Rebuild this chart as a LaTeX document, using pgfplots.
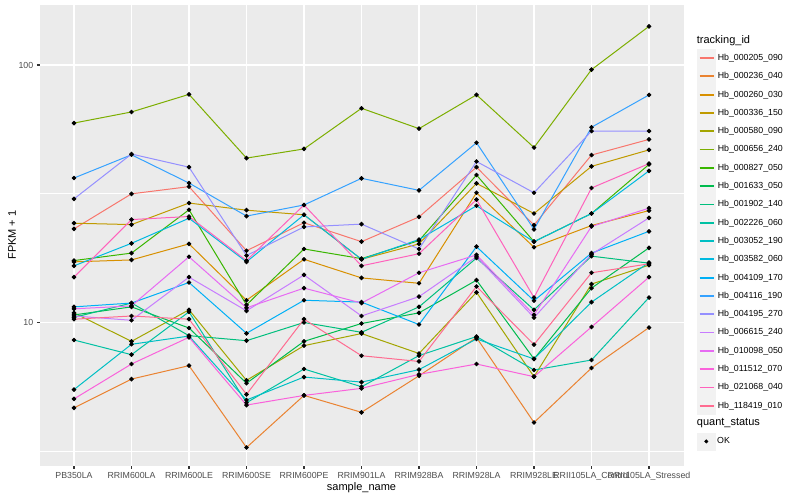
\documentclass[border=0pt]{standalone}
\usepackage{fontspec}
\setmainfont{Liberation Sans}
\usepackage{pgfplots}
\usepackage{pgfplotstable}
\pgfplotsset{compat=1.18}

\definecolor{c1}{HTML}{F8766D}
\definecolor{c2}{HTML}{EA8331}
\definecolor{c3}{HTML}{D89000}
\definecolor{c4}{HTML}{C09B00}
\definecolor{c5}{HTML}{A3A500}
\definecolor{c6}{HTML}{7CAE00}
\definecolor{c7}{HTML}{39B600}
\definecolor{c8}{HTML}{00BB4E}
\definecolor{c9}{HTML}{00BF7D}
\definecolor{c10}{HTML}{00C1A3}
\definecolor{c11}{HTML}{00BFC4}
\definecolor{c12}{HTML}{00BAE0}
\definecolor{c13}{HTML}{00B0F6}
\definecolor{c14}{HTML}{35A2FF}
\definecolor{c15}{HTML}{9590FF}
\definecolor{c16}{HTML}{C77CFF}
\definecolor{c17}{HTML}{E76BF3}
\definecolor{c18}{HTML}{FA62DB}
\definecolor{c19}{HTML}{FF62BC}
\definecolor{c20}{HTML}{FF6C91}
\definecolor{panelbg}{HTML}{EBEBEB}
\definecolor{keybg}{HTML}{F2F2F2}
\definecolor{grey30}{HTML}{4D4D4D}
\definecolor{grey20}{HTML}{333333}

% FPKM+1 per sample (rows) and tracking id (columns s1..s20, legend order)
\pgfplotstableread{
x  s1   s2   s3   s4   s5   s6    s7   s8   s9    s10  s11  s12  s13   s14  s15  s16   s17  s18  s19  s20
0  23.1 4.66 17.2 24.3 10.9 59.5  17.4 10.7 10.47 8.55 5.49 16.6 11.5  36.4 30.2 10.6  11.3 5.05 15.0 10.3
1  31.6 6.03 17.5 24.0 8.45 65.7  18.6 11.5 11.9  7.50 8.23 20.3 11.9  44.8 45.1 10.2  11.6 6.90 25.1 10.6
2  33.7 6.80 20.2 29.1 11.2 76.9  27.4 9.52 8.89  11.0 8.86 25.4 14.3  34.8 40.1 15.0  18.0 8.76 25.8 10.3
3  19.0 3.27 12.2 27.3 5.96 43.5  11.7 5.81 8.50  4.88 5.00 17.2 9.08  25.9 18.2 11.1  11.4 4.78 17.4 5.26
4  24.4 5.21 17.6 26.2 8.13 47.2  19.3 8.45 10.0  6.60 6.14 26.2 12.2  28.6 23.5 15.3  13.6 5.21 28.6 10.3
5  20.6 4.48 14.9 17.6 9.06 67.9  17.7 9.91 9.16  5.63 5.87 17.6 12.0  36.3 24.1 10.6  11.9 5.55 16.6 7.43
6  25.7 6.21 14.2 20.2 7.58 56.6  20.8 10.9 11.5  7.44 6.56 21.0 9.82  32.6 19.3 12.6  15.6 6.29 18.5 7.06
7  40.1 8.74 31.9 34.7 13.1 76.6  37.4 14.6 17.8  8.82 8.63 28.4 19.7  49.9 42.2 18.0  18.3 6.90 30.0 13.8
8  23.9 4.09 19.6 26.5 6.16 47.8  20.6 7.22 11.2  6.54 7.22 20.6 12.15 23.0 31.9 10.45 10.7 6.16 12.5 8.21
9  44.7 6.66 23.8 40.4 14.1 95.9  26.5 13.6 18.1  7.15 12.0 26.5 18.6  57.3 55.4 18.4  23.6 9.61 33.3 15.6
10 51.4 9.56 27.2 46.8 16.7 141.3 41.1 19.5 17.0  12.5 17.1 38.8 22.6  76.5 55.4 25.5  27.8 15.0 41.4 16.9
}\data

\begin{document}
\begin{tikzpicture}
\path[use as bounding box] (0,0) rectangle (800pt,500pt);

\begin{axis}[
    at={(39.5pt,34pt)}, anchor=south west,
    scale only axis, width=644pt, height=461pt,
    ymode=log,
    xmin=-0.6, xmax=10.6, ymin=2.772, ymax=171,
    axis background/.style={fill=panelbg},
    axis line style={draw=none},
    xtick={0,...,10},
    xticklabels={PB350LA,RRIM600LA,RRIM600LE,RRIM600SE,RRIM600PE,RRIM901LA,RRIM928BA,RRIM928LA,RRIM928LE,RRII105LA\_Control,RRII105LA\_Stressed},
    ytick={10,100}, yticklabels={10,100},
    minor ytick={3.1623,31.623},
    grid=both,
    major grid style={white, line width=1.07pt},
    minor grid style={white, line width=0.53pt},
    tick pos=left, tick align=outside,
    major tick length=2.75pt, minor tick length=0pt,
    tick style={grey20, line width=1.07pt},
    ticklabel style={font=\fontsize{8.8}{10}\selectfont, text=grey30},
    xlabel={sample\_name}, ylabel={FPKM + 1},
    label style={font=\fontsize{11}{13}\selectfont},
    xlabel style={at={(axis description cs:0.5,-0.0477)}, anchor=center},
    ylabel style={at={(axis description cs:-0.0427,0.501)}, anchor=center, rotate=0},
    cycle list={{c1},{c2},{c3},{c4},{c5},{c6},{c7},{c8},{c9},{c10},{c11},{c12},{c13},{c14},{c15},{c16},{c17},{c18},{c19},{c20}},
    every axis plot/.append style={line width=1pt},
    legend image code/.code={
        \fill[keybg] (0pt,-8.65pt) rectangle (17.3pt,8.65pt);
        \draw[#1, line width=1.8pt] (1.7pt,0pt) -- (15.6pt,0pt);
    },
    legend style={at={(1.0214,0.9053)}, anchor=north west, draw=none, fill=none,
        inner sep=0pt, row sep=0pt, font=\fontsize{8.8}{10}\selectfont},
    legend cell align=left,
    legend entries={Hb\_000205\_090,Hb\_000236\_040,Hb\_000260\_030,Hb\_000336\_150,Hb\_000580\_090,Hb\_000656\_240,Hb\_000827\_050,Hb\_001633\_050,Hb\_001902\_140,Hb\_002226\_060,Hb\_003052\_190,Hb\_003582\_060,Hb\_004109\_170,Hb\_004116\_190,Hb\_004195\_270,Hb\_006615\_240,Hb\_010098\_050,Hb\_011512\_070,Hb\_021068\_040,Hb\_118419\_010},
]
\pgfplotsinvokeforeach{1,...,20}{
    \addplot table[x=x, y=s#1] {\data};
}
\pgfplotsinvokeforeach{1,...,20}{
    \addplot[only marks, mark=*, mark size=1.75pt, black, forget plot] table[x=x, y=s#1] {\data};
}
\end{axis}

\begin{axis}[
    at={(39.5pt,34pt)}, anchor=south west,
    scale only axis, width=644pt, height=461pt,
    hide axis, xmin=0, xmax=1, ymin=0, ymax=1,
    legend image code/.code={
        \fill[keybg] (0pt,-8.65pt) rectangle (17.3pt,8.65pt);
        \path plot[mark=*, mark size=1.75pt, mark options={fill=black, draw=black}] coordinates {(8.65pt,0pt)};
    },
    legend style={at={(1.0214,0.0730)}, anchor=north west, draw=none, fill=none,
        inner sep=0pt, font=\fontsize{8.8}{10}\selectfont},
    legend cell align=left,
]
\addlegendimage{black}
\addlegendentry{OK}
\end{axis}

\node[anchor=west, inner sep=0pt, font=\fontsize{11}{13}\selectfont] at (696.7pt,459pt) {tracking\_id};
\node[anchor=west, inner sep=0pt, font=\fontsize{11}{13}\selectfont] at (696.7pt,77pt) {quant\_status};
\end{tikzpicture}
\end{document}
